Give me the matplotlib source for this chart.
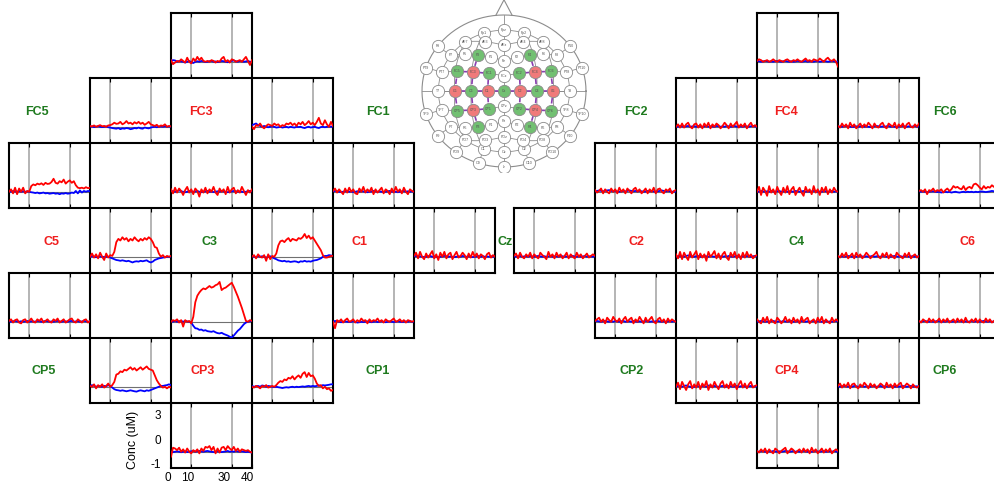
import numpy as np
import matplotlib
matplotlib.use("Agg")
import matplotlib.pyplot as plt
import matplotlib.transforms as mtransforms

plt.rcParams['font.family'] = ['Liberation Sans', 'DejaVu Sans']

# ---------------- data (uM), one sample per second, 0..40 s ----------------
time_s = list(range(41))

hbo_F3_FC3 = [0.10,-0.15,-0.05,0.05,0.00,0.15,0.05,-0.05,0.25,0.00,-0.10,0.20,0.05,0.30,0.10,0.25,0.05,0.00,0.05,0.00,0.10,0.05,-0.05,0.05,0.00,0.20,0.30,0.00,0.10,-0.05,0.15,0.10,0.00,0.05,0.10,0.00,0.15,0.30,0.05,-0.20,0.10]
hbr_F3_FC3 = [0.05,0.10,0.08,0.00,0.05,0.02,0.00,-0.05,0.00,0.05,-0.03,-0.08,0.00,0.03,0.00,0.05,0.02,-0.02,0.00,0.03,0.05,0.00,0.02,-0.02,0.00,0.05,0.03,0.00,-0.03,0.02,0.05,0.08,0.03,0.00,0.05,0.03,0.00,0.02,0.05,0.00,-0.02]
hbo_FC5_FC3 = [0.05,0.02,0.08,0.00,0.05,0.10,0.03,0.05,0.00,0.08,0.10,0.15,0.25,0.18,0.20,0.30,0.15,0.22,0.35,0.20,0.25,0.15,0.28,0.20,0.30,0.18,0.25,0.12,0.20,0.30,0.15,0.10,0.05,0.12,0.00,0.08,0.05,0.15,0.00,0.05,0.02]
hbr_FC5_FC3 = [0.00,0.02,-0.02,0.00,0.03,0.00,-0.02,0.00,0.02,-0.03,-0.05,-0.08,-0.10,-0.12,-0.08,-0.15,-0.10,-0.12,-0.08,-0.10,-0.15,-0.12,-0.08,-0.10,-0.05,-0.10,-0.12,-0.05,-0.08,-0.10,-0.05,-0.02,0.00,-0.03,0.00,0.02,0.00,0.03,0.00,0.02,0.00]
hbo_FC3_FC1 = [0.00,-0.15,0.10,0.05,0.20,0.00,-0.10,0.05,0.15,0.10,0.05,0.20,0.10,0.15,0.00,0.10,0.05,0.20,0.15,0.25,0.10,0.20,0.05,0.25,0.15,0.30,0.10,0.20,0.35,0.15,0.25,0.10,0.30,0.55,0.20,0.10,0.40,0.15,0.00,0.30,0.05]
hbr_FC3_FC1 = [0.10,0.15,0.20,0.10,0.05,0.00,0.05,0.00,-0.03,0.00,0.02,0.00,-0.05,-0.03,0.00,-0.05,-0.02,0.00,-0.05,0.00,-0.03,-0.05,0.00,-0.02,0.00,-0.05,-0.08,-0.03,0.00,-0.05,-0.02,0.00,-0.05,-0.08,-0.02,0.00,-0.03,0.00,0.02,0.00,0.02]
hbo_FC5_C5 = [0.00,0.15,-0.10,0.25,-0.15,0.20,0.00,0.25,-0.10,0.05,0.00,0.35,0.45,0.40,0.50,0.45,0.52,0.42,0.55,0.48,0.50,0.60,0.80,0.55,0.50,0.65,0.58,0.75,0.50,0.62,0.70,0.55,0.65,0.40,0.25,0.22,0.25,0.20,0.28,0.22,0.25]
hbr_FC5_C5 = [0.05,0.00,0.05,0.02,0.00,0.05,0.00,0.03,0.00,0.02,0.00,-0.03,-0.05,-0.08,-0.05,-0.10,-0.08,-0.05,-0.10,-0.08,-0.12,-0.10,-0.08,-0.12,-0.10,-0.15,-0.10,-0.12,-0.08,-0.12,-0.10,-0.05,-0.08,0.05,-0.10,0.08,-0.05,0.05,0.00,0.05,0.02]
hbo_FC3_C3 = [0.15,-0.10,0.25,-0.05,0.20,0.05,-0.20,0.10,0.30,-0.05,0.15,-0.15,0.20,0.05,-0.30,0.15,-0.05,0.25,-0.10,0.15,0.00,0.30,-0.05,-0.20,0.20,0.00,0.15,-0.15,0.30,-0.05,0.15,0.25,-0.10,0.10,-0.05,0.30,0.05,-0.20,0.10,-0.05,0.15]
hbr_FC3_C3 = [0.05,0.03,0.00,0.05,0.08,0.03,0.00,-0.03,0.00,0.05,0.03,0.00,0.02,0.05,0.00,-0.02,0.00,0.03,0.05,0.00,0.02,-0.02,0.00,0.03,0.00,0.05,0.02,0.00,-0.03,0.00,0.02,0.05,0.03,0.00,0.02,0.00,-0.02,0.00,0.03,0.05,0.02]
hbo_FC1_C1 = [0.05,0.20,-0.05,0.15,0.00,-0.15,0.20,-0.05,0.25,0.00,0.15,-0.10,-0.15,0.20,0.00,0.30,-0.05,0.15,0.00,0.25,-0.15,0.15,-0.05,0.10,0.25,-0.10,0.15,0.05,-0.15,0.20,-0.05,0.30,0.00,0.15,-0.10,0.25,0.00,-0.15,0.15,0.05,0.00]
hbr_FC1_C1 = [0.02,0.05,0.03,0.00,-0.02,0.00,0.03,0.05,0.00,0.02,-0.02,0.00,0.03,0.00,0.05,0.02,0.00,-0.03,0.00,0.02,0.05,0.03,0.00,0.02,0.00,-0.02,0.00,0.03,0.05,0.00,0.02,0.00,-0.03,0.00,0.02,0.05,0.00,0.03,0.00,0.02,0.00]
hbo_C5_C3 = [0.00,0.20,-0.05,0.15,-0.10,0.25,0.00,-0.20,0.20,-0.05,0.10,0.05,0.30,0.90,1.10,1.00,1.20,1.05,1.15,0.95,1.10,1.00,1.20,1.05,0.95,1.10,1.00,1.15,1.05,1.20,1.10,0.90,0.60,0.55,0.20,0.00,0.10,-0.05,0.05,0.00,0.05]
hbr_C5_C3 = [0.00,0.03,0.00,-0.03,0.00,0.02,0.00,-0.02,0.00,0.00,-0.05,-0.10,-0.15,-0.20,-0.22,-0.25,-0.22,-0.25,-0.28,-0.25,-0.30,-0.35,-0.30,-0.28,-0.30,-0.25,-0.28,-0.25,-0.22,-0.30,-0.35,-0.30,-0.20,-0.15,-0.10,-0.08,-0.05,-0.03,0.00,0.00,0.00]
hbo_C3_C1 = [0.00,0.10,-0.10,0.15,0.00,-0.05,0.10,-0.25,0.15,-0.15,0.05,0.00,0.20,0.70,0.95,1.00,0.90,1.05,1.15,0.95,1.10,1.05,1.00,1.15,1.10,1.20,1.40,1.15,1.30,1.10,1.20,1.00,0.80,0.60,0.40,0.10,-0.05,-0.05,0.00,0.05,0.05]
hbr_C3_C1 = [0.05,0.00,-0.03,0.05,0.00,0.03,0.00,-0.05,0.00,0.03,-0.03,-0.10,-0.15,-0.22,-0.25,-0.28,-0.25,-0.30,-0.28,-0.32,-0.30,-0.28,-0.30,-0.35,-0.28,-0.30,-0.25,-0.30,-0.28,-0.30,-0.25,-0.22,-0.20,-0.15,-0.10,0.00,0.05,0.05,0.10,0.08,0.05]
hbo_C1_Cz = [0.05,0.25,-0.10,0.30,0.00,-0.15,0.20,-0.05,0.15,0.35,-0.10,0.15,-0.20,0.25,0.00,0.30,-0.10,0.15,0.25,-0.15,0.10,0.30,-0.05,0.05,0.25,0.10,-0.15,0.20,-0.05,0.30,0.00,0.20,-0.10,0.15,0.05,-0.15,0.15,0.25,-0.05,0.10,0.00]
hbr_C1_Cz = [0.02,0.05,0.00,0.03,0.00,-0.02,0.00,0.03,0.05,0.00,0.02,0.00,-0.03,0.00,0.02,0.05,0.03,0.00,0.02,0.00,-0.02,0.00,0.03,0.00,0.05,0.02,0.00,0.03,0.00,-0.02,0.00,0.02,0.05,0.00,0.03,0.00,0.02,0.00,0.03,0.00,0.02]
hbo_C5_CP5 = [0.05,0.15,-0.05,0.10,0.15,-0.05,-0.10,0.10,0.15,-0.05,0.05,0.20,0.00,-0.05,0.15,0.05,0.20,-0.05,0.05,0.15,0.00,-0.05,0.15,0.05,0.20,-0.05,0.05,0.15,-0.05,0.05,0.15,0.20,0.00,-0.05,0.15,0.05,-0.05,0.10,0.15,-0.05,0.05]
hbr_C5_CP5 = [0.02,0.00,0.03,0.05,0.02,0.00,0.03,0.00,0.02,0.05,0.00,0.03,0.02,0.00,0.05,0.03,0.00,0.02,0.05,0.03,0.00,0.02,0.00,0.03,0.05,0.02,0.00,0.03,0.02,0.00,0.03,0.05,0.00,0.02,0.03,0.00,0.02,0.05,0.03,0.00,0.02]
hbo_C3_CP3 = [0.00,0.10,0.05,0.15,-0.05,0.10,-0.30,0.10,0.00,0.05,-0.10,0.30,1.20,1.60,1.80,1.95,2.05,2.00,2.10,2.20,2.10,2.15,2.25,2.30,2.45,1.95,2.05,2.10,2.20,2.30,2.40,2.15,1.85,1.55,1.20,0.85,0.45,0.05,0.00,0.10,0.05]
hbr_C3_CP3 = [0.05,0.00,0.05,0.00,0.03,0.05,0.00,0.05,0.02,0.00,-0.05,-0.25,-0.40,-0.42,-0.50,-0.48,-0.55,-0.52,-0.58,-0.60,-0.62,-0.58,-0.65,-0.70,-0.72,-0.68,-0.75,-0.80,-0.85,-0.92,-0.97,-0.85,-0.70,-0.55,-0.45,-0.30,-0.15,-0.05,0.00,0.03,0.05]
hbo_C1_CP1 = [0.00,-0.40,0.10,0.00,0.15,-0.05,0.10,0.20,0.00,0.05,0.15,-0.05,0.10,0.00,0.20,0.05,0.10,-0.10,0.15,0.00,0.10,0.05,0.20,0.00,0.10,-0.05,0.15,0.05,0.00,0.10,0.20,0.00,0.05,0.15,0.00,0.10,-0.05,0.10,0.05,0.00,0.05]
hbr_C1_CP1 = [0.00,0.05,0.03,0.00,-0.03,0.00,0.02,0.00,-0.02,0.00,0.03,0.00,-0.05,-0.03,0.00,-0.02,0.00,0.03,0.00,-0.03,0.00,0.02,-0.02,0.00,0.03,0.00,-0.03,0.00,0.02,0.00,-0.02,0.00,0.03,0.00,-0.02,0.00,0.02,0.00,0.03,0.00,0.00]
hbo_CP5_CP3 = [0.05,0.00,0.15,-0.10,0.10,0.00,0.15,-0.05,0.05,0.20,0.00,0.10,0.30,0.75,0.80,0.95,0.90,1.05,1.00,1.10,1.20,1.05,1.15,1.00,1.10,1.20,1.05,1.15,1.25,1.10,1.05,1.00,0.70,0.40,0.20,0.05,-0.05,0.00,-0.10,0.00,-0.05]
hbr_CP5_CP3 = [0.05,0.10,0.05,0.00,0.05,0.02,0.00,0.05,0.03,0.10,0.05,-0.05,-0.15,-0.20,-0.22,-0.25,-0.22,-0.25,-0.28,-0.25,-0.22,-0.25,-0.28,-0.30,-0.25,-0.22,-0.25,-0.28,-0.22,-0.25,-0.20,-0.15,-0.10,-0.05,0.00,0.05,0.05,0.08,0.10,0.15,0.10]
hbo_CP3_CP1 = [0.00,-0.05,0.05,0.00,-0.10,0.05,0.00,0.10,-0.05,0.00,0.05,0.00,0.10,0.25,0.35,0.30,0.45,0.40,0.55,0.50,0.65,0.45,0.60,0.70,0.55,0.80,0.90,0.60,0.85,0.65,0.70,0.50,0.20,0.05,0.10,-0.10,0.00,-0.15,-0.10,-0.25,-0.20]
hbr_CP3_CP1 = [0.05,0.00,0.03,0.05,0.00,0.08,0.05,0.00,0.05,0.03,0.00,-0.02,0.00,-0.03,-0.05,-0.08,-0.05,-0.03,-0.05,-0.02,0.00,-0.03,0.00,-0.02,0.00,0.02,0.00,0.03,0.05,0.02,0.05,0.03,0.05,0.08,0.05,0.10,0.08,0.10,0.12,0.15,0.15]
hbo_CP3_P3 = [-0.30,0.25,0.20,0.10,0.25,0.00,0.15,-0.05,0.20,0.00,-0.10,0.10,0.00,0.15,-0.10,0.20,0.05,0.30,0.25,0.35,0.10,0.30,-0.10,0.20,-0.05,0.25,0.30,0.10,0.35,0.20,0.10,0.30,0.05,0.20,0.00,0.15,0.10,0.05,0.10,0.00,-0.05]
hbr_CP3_P3 = [0.00,-0.02,0.00,0.03,0.00,-0.03,0.00,0.02,-0.02,0.00,0.03,0.05,0.00,0.03,0.05,0.02,0.00,0.03,0.05,0.02,0.00,-0.02,0.00,0.03,0.00,-0.02,0.00,0.02,0.05,0.00,0.03,0.00,0.05,0.02,0.00,0.03,0.00,-0.02,0.00,-0.03,-0.05]

hbo_F4_FC4 = [0.05,0.15,0.10,0.00,0.05,0.10,0.00,0.05,0.15,0.05,0.00,0.10,0.05,0.00,0.10,0.15,0.05,0.00,0.10,0.05,0.15,0.05,0.00,0.10,0.20,0.05,0.10,0.00,0.15,0.10,0.05,0.20,0.10,0.00,0.15,0.25,0.10,0.05,0.15,0.00,-0.30]
hbr_F4_FC4 = [0.05,0.03,0.00,0.02,0.05,0.03,0.00,0.02,0.00,0.03,0.05,0.02,0.00,0.03,0.05,0.02,0.00,0.03,0.00,0.02,0.05,0.03,0.00,0.02,0.05,0.00,0.03,0.02,0.00,0.05,0.03,0.00,0.02,0.05,0.03,0.00,0.02,0.05,0.03,0.00,0.02]
hbo_FC2_FC4 = [0.00,0.15,-0.05,0.20,-0.05,0.15,0.25,0.00,-0.10,0.15,0.20,-0.05,0.15,-0.10,0.20,0.00,0.25,-0.10,0.15,0.00,0.20,0.10,-0.10,0.05,0.25,0.10,-0.10,0.20,0.00,0.15,0.30,-0.05,0.15,0.00,0.20,-0.10,0.10,0.25,0.00,0.10,0.00]
hbr_FC2_FC4 = [0.03,0.00,0.05,0.02,0.00,0.03,0.05,0.00,0.02,0.03,0.00,0.05,0.03,0.00,0.02,0.05,0.00,0.03,0.02,0.00,0.05,0.03,0.00,0.02,0.00,0.05,0.03,0.00,0.02,0.05,0.00,0.03,0.02,0.00,0.05,0.02,0.00,0.03,0.05,0.02,0.00]
hbo_FC4_FC6 = [0.05,-0.05,0.20,0.00,0.15,-0.10,0.25,0.00,0.15,-0.10,0.05,0.20,-0.05,0.15,0.00,0.25,0.10,-0.10,0.20,0.00,-0.05,0.15,0.25,0.00,-0.10,0.20,0.10,0.00,0.25,-0.10,0.15,0.00,0.20,-0.10,0.15,0.25,0.00,-0.05,0.15,0.00,0.20]
hbr_FC4_FC6 = [0.00,0.02,0.00,0.03,0.05,0.02,0.00,-0.02,0.00,0.03,0.00,0.02,0.05,0.00,0.03,0.00,-0.02,0.00,0.02,0.05,0.03,0.00,0.02,0.00,0.03,0.05,0.00,0.02,0.00,-0.02,0.00,0.03,0.05,0.02,0.00,0.03,0.00,0.02,0.05,0.00,0.02]
hbo_FC2_C2 = [0.10,-0.05,0.05,0.20,-0.10,0.15,0.00,-0.10,0.20,0.00,0.15,-0.10,0.25,0.00,0.15,-0.10,0.20,0.05,-0.10,0.15,0.25,0.00,0.15,-0.10,0.05,0.20,-0.10,0.15,0.00,0.25,-0.10,0.15,0.20,0.00,-0.10,0.15,0.05,0.20,-0.10,0.05,0.10]
hbr_FC2_C2 = [0.02,0.05,0.08,0.05,0.03,0.05,0.08,0.10,0.05,0.03,0.05,0.02,0.00,0.03,0.05,0.02,0.05,0.08,0.05,0.03,0.05,0.02,0.05,0.03,0.00,0.02,0.05,0.03,0.05,0.02,0.00,0.03,0.05,0.08,0.05,0.02,0.05,0.03,0.00,0.02,0.00]
hbo_FC4_C4 = [0.00,0.30,-0.20,0.25,0.05,-0.25,0.35,-0.05,0.15,-0.15,0.30,0.00,-0.20,0.25,-0.05,0.35,-0.15,0.15,0.30,-0.20,0.05,0.25,-0.05,-0.25,0.30,0.00,0.15,-0.15,0.35,-0.05,0.15,-0.20,0.25,0.00,0.30,-0.15,0.15,-0.05,0.25,0.05,0.00]
hbr_FC4_C4 = [0.03,0.00,0.05,0.02,0.00,0.03,0.00,0.05,0.02,0.00,0.03,0.05,0.00,0.02,0.05,0.00,0.03,0.02,0.00,0.05,0.03,0.00,0.02,0.05,0.00,0.03,0.00,0.02,0.05,0.03,0.00,0.02,0.00,0.05,0.03,0.00,0.02,0.05,0.00,0.03,0.00]
hbo_FC6_C6 = [0.05,0.10,0.00,0.15,-0.15,0.10,0.05,0.20,0.00,0.10,0.05,0.15,-0.05,0.10,0.20,0.05,0.15,0.35,0.25,0.30,0.20,0.15,0.35,0.10,0.25,0.30,0.20,0.45,0.50,0.40,0.25,0.15,0.35,0.20,0.30,0.25,0.40,0.30,0.35,0.30,0.35]
hbr_FC6_C6 = [0.03,0.00,0.02,0.00,-0.02,0.00,0.02,0.03,0.00,-0.02,0.00,-0.05,-0.02,0.00,-0.03,0.00,-0.05,-0.02,0.00,-0.03,-0.05,-0.02,0.00,-0.03,0.00,-0.02,0.00,-0.03,0.00,-0.02,0.00,0.02,0.00,-0.02,0.00,0.02,0.05,0.03,0.00,0.02,0.00]
hbo_Cz_C2 = [0.05,0.20,-0.10,0.25,0.00,-0.10,0.15,0.00,0.25,-0.10,0.15,0.00,-0.10,0.25,0.10,0.00,-0.15,0.30,0.00,0.15,-0.10,0.25,0.00,0.15,-0.10,0.05,0.25,-0.10,0.15,0.00,-0.10,0.25,0.00,0.15,-0.10,0.05,0.20,-0.05,0.05,0.15,0.05]
hbr_Cz_C2 = [0.02,0.00,0.03,0.05,0.00,0.02,0.03,0.00,0.05,0.02,0.00,0.03,0.05,0.02,0.00,0.03,0.00,0.02,0.05,0.00,0.03,0.02,0.00,0.05,0.03,0.00,0.02,0.00,0.03,0.05,0.02,0.00,0.03,0.00,0.02,0.05,0.00,0.03,0.02,0.00,0.03]
hbo_C2_C4 = [0.15,-0.10,0.30,-0.15,0.25,0.00,-0.20,0.30,-0.05,0.15,0.35,-0.15,0.20,-0.05,0.15,-0.25,0.30,0.00,0.15,0.35,-0.10,0.20,-0.15,0.15,0.30,-0.05,-0.20,0.25,0.00,0.30,-0.10,0.15,-0.15,0.25,-0.05,0.30,0.00,0.15,-0.10,0.05,0.10]
hbr_C2_C4 = [0.00,0.03,0.05,0.02,0.00,0.05,0.08,0.05,0.02,0.00,0.03,0.05,0.00,0.02,0.05,0.03,0.00,0.05,0.02,0.00,0.03,0.05,0.02,0.00,0.03,0.00,0.05,0.02,0.00,0.03,0.05,0.02,0.00,0.03,0.00,0.05,0.02,0.00,0.03,0.05,0.02]
hbo_C4_C6 = [0.05,-0.05,0.20,0.00,0.25,-0.10,0.05,0.20,-0.10,0.25,0.00,0.15,-0.10,0.05,0.25,0.10,-0.10,0.05,0.15,0.30,0.00,-0.10,0.20,0.00,0.25,-0.10,0.15,0.00,-0.10,0.25,0.10,0.00,-0.10,0.20,0.00,0.25,-0.10,0.05,0.15,-0.05,0.05]
hbr_C4_C6 = [0.02,0.00,0.03,0.00,0.02,0.05,0.03,0.00,0.02,0.00,0.03,0.05,0.02,0.00,0.03,0.00,0.02,0.05,0.00,0.03,0.02,0.00,0.05,0.03,0.00,0.02,0.00,0.03,0.05,0.02,0.00,0.03,0.00,0.02,0.05,0.00,0.03,0.02,0.00,0.03,0.00]
hbo_C2_CP2 = [0.05,0.15,0.25,0.00,0.15,-0.10,0.25,0.10,0.00,0.30,0.10,0.00,0.20,-0.10,0.15,0.30,0.00,0.15,0.25,-0.10,0.15,0.00,0.30,0.10,-0.10,0.25,0.00,0.15,0.30,0.00,-0.10,0.15,0.25,0.00,0.15,-0.10,0.20,0.00,0.15,0.05,0.00]
hbr_C2_CP2 = [0.03,0.05,0.02,0.00,0.03,0.05,0.02,0.00,0.03,0.00,0.05,0.02,0.00,0.03,0.05,0.00,0.02,0.03,0.00,0.05,0.02,0.00,0.03,0.00,0.02,0.05,0.03,0.00,0.02,0.00,0.03,0.05,0.02,0.00,0.03,0.00,0.02,0.05,0.00,0.03,0.02]
hbo_C4_CP4 = [0.15,0.00,-0.10,0.25,0.00,0.30,-0.10,0.15,0.00,-0.10,0.25,0.10,-0.10,0.05,0.30,0.00,0.15,-0.10,0.25,0.00,0.15,-0.10,0.30,0.00,0.15,0.25,-0.10,0.05,0.15,-0.10,0.25,0.00,0.30,-0.10,0.15,0.00,-0.10,0.25,0.00,0.15,0.05]
hbr_C4_CP4 = [0.00,0.02,0.05,0.03,0.00,0.02,0.00,0.03,0.05,0.02,0.00,0.03,0.00,0.05,0.02,0.00,0.03,0.05,0.00,0.02,0.03,0.00,0.05,0.02,0.00,0.03,0.00,0.02,0.05,0.00,0.03,0.02,0.00,0.05,0.03,0.00,0.02,0.00,0.03,0.05,0.02]
hbo_C6_CP6 = [0.05,-0.05,0.15,0.05,-0.05,0.20,0.00,0.15,-0.05,0.05,0.20,-0.05,0.15,0.00,0.20,-0.05,0.05,0.15,-0.05,0.20,0.00,0.15,-0.05,0.25,0.00,-0.05,0.15,0.00,0.20,-0.05,0.15,0.00,-0.05,0.20,0.00,0.15,-0.05,0.05,0.15,-0.05,0.05]
hbr_C6_CP6 = [0.02,0.00,0.03,0.05,0.02,0.00,0.03,0.00,0.02,0.05,0.03,0.00,0.02,0.00,0.05,0.03,0.00,0.02,0.00,0.03,0.05,0.02,0.00,0.03,0.00,0.02,0.05,0.00,0.03,0.02,0.00,0.03,0.05,0.02,0.00,0.03,0.00,0.02,0.05,0.03,0.00]
hbo_CP2_CP4 = [0.00,0.25,-0.15,0.30,0.05,-0.20,0.15,0.35,-0.10,0.15,-0.05,0.30,-0.15,0.20,0.00,0.35,-0.20,0.15,-0.05,0.30,0.05,-0.15,0.20,0.35,-0.05,0.15,-0.10,0.30,0.00,0.20,-0.15,0.15,0.35,-0.05,0.20,-0.10,0.15,0.30,-0.05,0.05,0.10]
hbr_CP2_CP4 = [0.00,0.05,0.03,0.00,0.05,0.08,0.03,0.00,-0.05,0.00,0.05,0.03,0.00,0.05,0.02,0.00,0.08,0.03,0.00,0.05,0.02,0.00,0.03,0.05,0.00,0.02,0.05,0.03,0.00,0.02,0.05,0.00,0.03,0.05,0.02,0.00,0.03,0.05,0.00,0.03,0.02]
hbo_CP4_CP6 = [0.05,0.20,-0.05,0.15,0.00,0.25,-0.10,0.15,0.20,0.00,-0.10,0.15,0.00,0.25,0.10,-0.10,0.20,0.00,0.15,-0.10,0.05,0.20,0.10,-0.10,0.25,0.00,0.15,-0.10,0.20,0.00,0.15,0.25,-0.10,0.05,0.20,0.10,-0.10,0.15,0.00,-0.05,0.05]
hbr_CP4_CP6 = [0.03,0.00,0.02,0.05,0.03,0.00,0.02,0.00,0.05,0.03,0.00,0.02,0.05,0.00,0.03,0.02,0.00,0.05,0.03,0.00,0.02,0.05,0.00,0.03,0.02,0.00,0.05,0.03,0.00,0.02,0.00,0.03,0.05,0.02,0.00,0.03,0.05,0.00,0.02,0.03,0.00]
hbo_CP4_P4 = [0.05,-0.05,0.15,0.00,0.20,-0.10,0.15,0.00,-0.10,0.20,0.10,-0.10,0.05,0.15,0.25,-0.10,0.05,0.20,0.10,-0.10,0.05,0.15,-0.05,0.20,0.00,0.15,-0.10,0.25,0.00,0.15,-0.10,0.05,0.20,-0.05,0.15,0.00,0.20,-0.10,0.05,0.15,0.05]
hbr_CP4_P4 = [0.02,0.00,0.03,0.05,0.00,0.02,0.03,0.00,0.05,0.02,0.00,0.03,0.00,0.02,0.05,0.03,0.00,0.02,0.05,0.00,0.03,0.00,0.02,0.05,0.03,0.00,0.02,0.00,0.03,0.05,0.02,0.00,0.03,0.05,0.00,0.02,0.03,0.00,0.05,0.02,0.00]

# channel layout: (source, detector, left px, top px, HbO, HbR)
channels = [
    ('F3', 'FC3', 171, 13, hbo_F3_FC3, hbr_F3_FC3),
    ('FC5', 'FC3', 90, 78, hbo_FC5_FC3, hbr_FC5_FC3),
    ('FC3', 'FC1', 252, 78, hbo_FC3_FC1, hbr_FC3_FC1),
    ('FC5', 'C5', 9, 143, hbo_FC5_C5, hbr_FC5_C5),
    ('FC3', 'C3', 171, 143, hbo_FC3_C3, hbr_FC3_C3),
    ('FC1', 'C1', 333, 143, hbo_FC1_C1, hbr_FC1_C1),
    ('C5', 'C3', 90, 208, hbo_C5_C3, hbr_C5_C3),
    ('C3', 'C1', 252, 208, hbo_C3_C1, hbr_C3_C1),
    ('C1', 'Cz', 414, 208, hbo_C1_Cz, hbr_C1_Cz),
    ('C5', 'CP5', 9, 273, hbo_C5_CP5, hbr_C5_CP5),
    ('C3', 'CP3', 171, 273, hbo_C3_CP3, hbr_C3_CP3),
    ('C1', 'CP1', 333, 273, hbo_C1_CP1, hbr_C1_CP1),
    ('CP5', 'CP3', 90, 338, hbo_CP5_CP3, hbr_CP5_CP3),
    ('CP3', 'CP1', 252, 338, hbo_CP3_CP1, hbr_CP3_CP1),
    ('CP3', 'P3', 171, 403, hbo_CP3_P3, hbr_CP3_P3),
    ('F4', 'FC4', 757, 13, hbo_F4_FC4, hbr_F4_FC4),
    ('FC2', 'FC4', 676, 78, hbo_FC2_FC4, hbr_FC2_FC4),
    ('FC4', 'FC6', 838, 78, hbo_FC4_FC6, hbr_FC4_FC6),
    ('FC2', 'C2', 595, 143, hbo_FC2_C2, hbr_FC2_C2),
    ('FC4', 'C4', 757, 143, hbo_FC4_C4, hbr_FC4_C4),
    ('FC6', 'C6', 919, 143, hbo_FC6_C6, hbr_FC6_C6),
    ('Cz', 'C2', 514, 208, hbo_Cz_C2, hbr_Cz_C2),
    ('C2', 'C4', 676, 208, hbo_C2_C4, hbr_C2_C4),
    ('C4', 'C6', 838, 208, hbo_C4_C6, hbr_C4_C6),
    ('C2', 'CP2', 595, 273, hbo_C2_CP2, hbr_C2_CP2),
    ('C4', 'CP4', 757, 273, hbo_C4_CP4, hbr_C4_CP4),
    ('C6', 'CP6', 919, 273, hbo_C6_CP6, hbr_C6_CP6),
    ('CP2', 'CP4', 676, 338, hbo_CP2_CP4, hbr_CP2_CP4),
    ('CP4', 'CP6', 838, 338, hbo_CP4_CP6, hbr_CP4_CP6),
    ('CP4', 'P4', 757, 403, hbo_CP4_P4, hbr_CP4_P4),
]

# optode labels: (name, kind, x px, y px)
optode_labels = [
    ('FC5', 'D', 37, 112), ('FC3', 'S', 201, 112), ('FC1', 'D', 378, 112),
    ('C5', 'S', 52, 242), ('C3', 'D', 209, 242), ('C1', 'S', 359, 242), ('Cz', 'D', 505, 242),
    ('CP5', 'D', 44, 371), ('CP3', 'S', 203, 371), ('CP1', 'D', 378, 371),
    ('FC2', 'D', 636, 112), ('FC4', 'S', 786, 112), ('FC6', 'D', 945, 112),
    ('C2', 'S', 636, 242), ('C4', 'D', 797, 242), ('C6', 'S', 968, 242),
    ('CP2', 'D', 632, 371), ('CP4', 'S', 787, 371), ('CP6', 'D', 945, 371),
]
sources = ['FC3', 'FC4', 'C5', 'C1', 'C2', 'C6', 'CP3', 'CP4']
detectors = ['F3', 'F4', 'FC5', 'FC1', 'FC2', 'FC6', 'C3', 'Cz', 'C4',
             'CP5', 'CP1', 'CP2', 'CP6', 'P3', 'P4']

W, H = 994, 484
PW, PH = 81, 65
fig = plt.figure(figsize=(W / 100, H / 100), dpi=100)

def px_axes(x, y, w, h):
    return fig.add_axes([x / W, 1 - (y + h) / H, w / W, h / H])

RED = '#ff0000'
BLUE = '#0000ff'
TXT_RED = '#f01e1e'
TXT_GREEN = '#1e7a1e'

for src, det, x0, y0, hbo, hbr in channels:
    ax = px_axes(x0, y0, PW, PH)
    ax.set_xlim(0, 40)
    ax.set_ylim(-1, 3)
    for xv in (10, 30):
        ax.axvline(xv, color='#a8a8a8', lw=1.2, zorder=1)
    ax.axhline(0, color='#707070', lw=0.8, zorder=1)
    ax.plot(time_s[:len(hbr)], hbr, color=BLUE, lw=1.3, zorder=3)
    ax.plot(time_s[:len(hbo)], hbo, color=RED, lw=1.3, zorder=4)
    for s in ax.spines.values():
        s.set_linewidth(1.5)
        s.set_color('black')
    if (src, det) == ('CP3', 'P3'):
        ax.set_xticks([0, 10, 30, 40])
        ax.set_xticklabels(['0', '10', '30', '40'], fontsize=8.5)
        ax.tick_params(axis='x', direction='in', length=3, top=True, pad=3)
        for lab, dx in zip(ax.get_xticklabels(), (-3, -4, -8, -5)):
            lab.set_transform(lab.get_transform() +
                              mtransforms.ScaledTranslation(dx / 100, 0, fig.dpi_scale_trans))
        ax.set_yticks([2.32, 0.78, -0.75])
        ax.set_yticklabels(['3', '0', '-1'], fontsize=8.5)
        ax.tick_params(axis='y', length=0, pad=7)
    else:
        ax.set_xticks([10, 30])
        ax.tick_params(axis='x', direction='in', length=3, top=True,
                       labelbottom=False)
        ax.set_yticks([])

fig.text(133 / W, 1 - 440 / H, 'Conc (uM)', rotation=90, ha='center',
         va='center', fontsize=9)

for name, kind, x, y in optode_labels:
    fig.text(x / W, 1 - y / H, name, ha='center', va='center', fontsize=9,
             fontweight='bold', color=TXT_RED if kind == 'S' else TXT_GREEN)

# ---------------- head inset (10-10 layout) ----------------
def sph(polar, az):
    p, a = np.radians(polar), np.radians(az)
    return np.array([np.sin(p) * np.sin(a), np.sin(p) * np.cos(a), np.cos(p)])

def slerp(a, b, f):
    a = a / np.linalg.norm(a)
    b = b / np.linalg.norm(b)
    om = np.arccos(np.clip(np.dot(a, b), -1, 1))
    if om < 1e-9:
        return a
    return (np.sin((1 - f) * om) * a + np.sin(f * om) * b) / np.sin(om)

def proj(v):
    v = v / np.linalg.norm(v)
    r = np.degrees(np.arccos(np.clip(v[2], -1, 1))) / 90
    rho = np.hypot(v[0], v[1])
    if rho < 1e-9:
        return (0.0, 0.0)
    return (r * v[0] / rho, r * v[1] / rho)

vec = {}
ring = {'Fp1': -18, 'Fpz': 0, 'Fp2': 18, 'AF7': -36, 'AF8': 36, 'F7': -54, 'F8': 54,
        'FT7': -72, 'FT8': 72, 'T7': -90, 'T8': 90, 'TP7': -108, 'TP8': 108,
        'P7': -126, 'P8': 126, 'PO7': -144, 'PO8': 144, 'O1': -162, 'Oz': 180, 'O2': 162}
equator = {'F9': -54, 'F10': 54, 'FT9': -72, 'FT10': 72, 'TP9': -108, 'TP10': 108,
           'P9': -126, 'P10': 126, 'PO9': -144, 'PO10': 144, 'O9': -162, 'O10': 162,
           'Iz': 180}
midline = {'AFz': (54, 0), 'Fz': (36, 0), 'FCz': (18, 0), 'Cz': (0, 0),
           'CPz': (18, 180), 'Pz': (36, 180), 'POz': (54, 180)}
for k, a in ring.items():
    vec[k] = sph(72, a)
for k, a in equator.items():
    vec[k] = sph(90, a)
for k, (p, a) in midline.items():
    vec[k] = sph(p, a)
rows = [
    ('AFz', 'AF7', 'AF8', [(0.5, 'AF3', 'AF4')]),
    ('Fz', 'F7', 'F8', [(0.25, 'F1', 'F2'), (0.5, 'F3', 'F4'), (0.75, 'F5', 'F6')]),
    ('FCz', 'FT7', 'FT8', [(0.25, 'FC1', 'FC2'), (0.5, 'FC3', 'FC4'), (0.75, 'FC5', 'FC6')]),
    ('Cz', 'T7', 'T8', [(0.25, 'C1', 'C2'), (0.5, 'C3', 'C4'), (0.75, 'C5', 'C6')]),
    ('CPz', 'TP7', 'TP8', [(0.25, 'CP1', 'CP2'), (0.5, 'CP3', 'CP4'), (0.75, 'CP5', 'CP6')]),
    ('Pz', 'P7', 'P8', [(0.25, 'P1', 'P2'), (0.5, 'P3', 'P4'), (0.75, 'P5', 'P6')]),
    ('POz', 'PO7', 'PO8', [(0.5, 'PO3', 'PO4')]),
]
for mid, le, re, items in rows:
    for f, ln, rn in items:
        vec[ln] = slerp(vec[mid], vec[le], f)
        vec[rn] = slerp(vec[mid], vec[re], f)
pos = {k: proj(v) for k, v in vec.items()}

cx, cy, sx, sy = 504, 91, 82, 76
hx0, hy0, hw, hh = 420, 0, 172, 172
hax = px_axes(hx0, hy0, hw, hh)
hax.set_xlim((hx0 - cx) / sx, (hx0 + hw - cx) / sx)
hax.set_ylim((cy - (hy0 + hh)) / sy, (cy - hy0) / sy)
hax.axis('off')
hax.patch.set_alpha(0)

LC = '#8c8c8c'
th = np.linspace(0, 2 * np.pi, 300)
hax.plot(np.cos(th), np.sin(th), color=LC, lw=0.8, zorder=1)
hax.plot(0.8 * np.cos(th), 0.8 * np.sin(th), color=LC, lw=0.6, zorder=1)
bx = 0.1
by = np.sqrt(1 - bx ** 2)
hax.plot([-bx, 0, bx], [by, 1.2, by], color=LC, lw=0.8, zorder=1)
hax.plot([0, 0], [1.0, -1.0], color=LC, lw=0.6, zorder=1)
hax.plot([-1.0, 1.0], [0, 0], color=LC, lw=0.6, zorder=1)

def arc(a, b, n=40):
    pts = [proj(slerp(a, b, f)) for f in np.linspace(0, 1, n)]
    return np.array(pts)

for mid, le, re, items in rows:
    for end in (le, re):
        p = arc(vec[mid], vec[end])
        hax.plot(p[:, 0], p[:, 1], color=LC, lw=0.6, zorder=1)
for a in (54, 72, 108, 126, 144, 162):
    for sgn in (-1, 1):
        p1 = proj(sph(72, sgn * a))
        p2 = proj(sph(90, sgn * a))
        hax.plot([p1[0], p2[0]], [p1[1], p2[1]], color=LC, lw=0.6, zorder=1)
for a_f, mid_n, a_b in (('Fp1', 'C3', 'O1'), ('AF7', 'C5', 'PO7'),
                        ('Fp2', 'C4', 'O2'), ('AF8', 'C6', 'PO8')):
    for e1, e2 in ((a_f, mid_n), (mid_n, a_b)):
        p = arc(vec[e1], vec[e2])
        hax.plot(p[:, 0], p[:, 1], color=LC, lw=0.6, zorder=1)

# channel markers
for src, det, *_ in channels:
    (x1, y1), (x2, y2) = pos[src], pos[det]
    hax.plot([x1 + 0.36 * (x2 - x1), x1 + 0.64 * (x2 - x1)],
             [y1 + 0.36 * (y2 - y1), y1 + 0.64 * (y2 - y1)],
             color='#8a3fb0', lw=1.2, zorder=2, solid_capstyle='butt')

for name, (x, y) in pos.items():
    if name in sources:
        fc = '#f07a7a'
    elif name in detectors:
        fc = '#72c072'
    else:
        fc = 'white'
    hax.scatter([x], [y], s=78, facecolor=fc, edgecolor='#8a8a8a', lw=0.6, zorder=3)
    hax.text(x, y, name, fontsize=2.6, ha='center', va='center', color='#555555', zorder=4)

fig.savefig('out.png', dpi=100)
